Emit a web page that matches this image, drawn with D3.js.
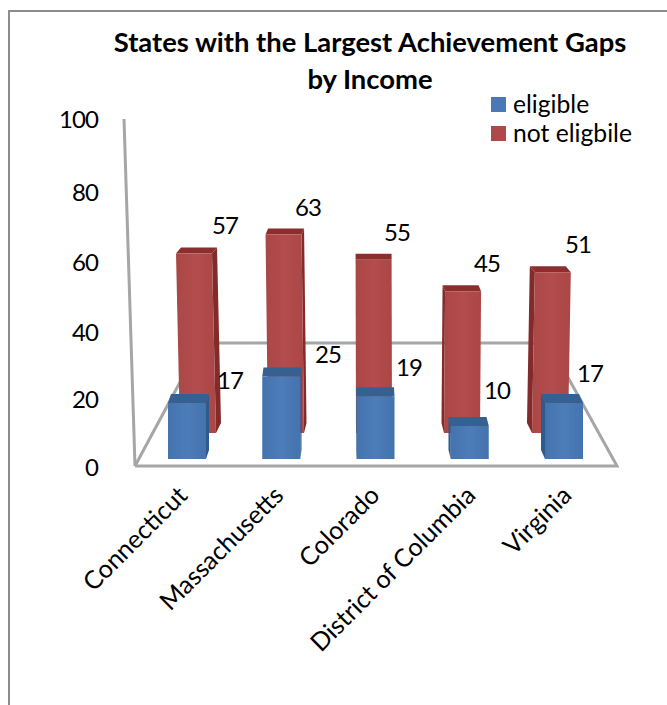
<!DOCTYPE html>
<html><head><meta charset="utf-8">
<script src="https://cdn.jsdelivr.net/npm/d3@7"></script>
<style>html,body{margin:0;padding:0;background:#fff}svg{display:block}text{font-family:Lato,"Open Sans",sans-serif;fill:#000}</style>
</head><body><svg id="c" width="667" height="705"></svg>
<script>
const categories=["Connecticut","Massachusetts","Colorado","District of Columbia","Virginia"];
const eligible=[17,25,19,10,17];
const notEligible=[57,63,55,45,51];
const axisTicks=[0,20,40,60,80,100];
const seriesNames=["eligible","not eligbile"];
const titleLines=["States with the Largest Achievement Gaps","by Income"];

const svg=d3.select("#c");
const defs=svg.append("defs");
function grad(id,a,b){const g=defs.append("linearGradient").attr("id",id).attr("x1",0).attr("x2",1).attr("y1",0).attr("y2",0);
 g.append("stop").attr("offset","0%").attr("stop-color",a);g.append("stop").attr("offset","50%").attr("stop-color",b);g.append("stop").attr("offset","100%").attr("stop-color",a);}
grad("gb","#4373af","#4d7db8");grad("gr","#aa4645","#b34e4d");
defs.append("filter").attr("id","soft").append("feGaussianBlur").attr("stdDeviation",0.5);

// frame
svg.append("path").attr("d","M9,705V11H667").attr("fill","none").attr("stroke","#8c8c8c").attr("stroke-width",2);

// title
svg.selectAll("text.t").data(titleLines).join("text").attr("class","t").attr("x",370).attr("y",(d,i)=>52+i*36.5)
 .attr("text-anchor","middle").attr("font-size",27.4).attr("font-weight",700).text(d=>d);

// axis with perspective-compressed spacing
const yAxisScale=d3.scaleLinear().domain(axisTicks).range([468,400,333,263,193,120]);
const ax=svg.append("g").attr("transform","translate(98,0)").call(d3.axisLeft(yAxisScale).tickValues(axisTicks).tickSize(0).tickPadding(0));
ax.select(".domain").remove();
ax.selectAll("text").attr("font-size",24).attr("letter-spacing",-0.9).style("font-family","Lato,'Open Sans',sans-serif").attr("fill","#000");

// walls & floor
const wall="#a6a6a6";
const floorPts=[[135,466],[617,466],[549,343],[201,343],[135,466]];
svg.append("path").attr("d",d3.line()(floorPts)).attr("fill","none").attr("stroke",wall).attr("stroke-width",3);
svg.append("path").attr("d",d3.line()([[124,119],[135,466]])).attr("fill","none").attr("stroke",wall).attr("stroke-width",3);

// projection scales
const idx=d3.scaleLinear().domain([0,categories.length-1]);
const xBlue=idx.copy().range([168,545]);
const xRed=idx.copy().range([180,532]);
const leanRed=idx.copy().range([-0.07,0.055]);
const depthBlue=idx.copy().range([3,-4]);
const depthRed=idx.copy().range([5,-5]);
const yBlue=d3.scaleLinear().domain([0,100]).range([459,129]);
const yRed=d3.scaleLinear().domain([0,100]).range([433,118]);

function box(g,o){
 const {xb,w,lean,dx,y,v,dyTop,dyBot,front,top,side}=o;
 const fx=(vv)=>xb+lean*vv;
 const poly=(pts,fill)=>g.append("polygon").attr("points",pts.map(p=>p.join(",")).join(" ")).attr("fill",fill);
 const yb=y(0),yt=y(v);
 if(dx>=0){poly([[fx(v)+w,yt],[fx(v)+w+dx,yt-dyTop],[fx(0)+w+dx,yb-dyBot],[fx(0)+w,yb]],side);}
 else{poly([[fx(v),yt],[fx(v)+dx,yt-dyTop],[fx(0)+dx,yb-dyBot],[fx(0),yb]],side);}
 poly([[fx(v),yt],[fx(v)+w,yt],[fx(v)+w+dx,yt-dyTop],[fx(v)+dx,yt-dyTop]],top);
 poly([[fx(0),yb],[fx(0)+w,yb],[fx(v)+w,yt],[fx(v),yt]],front);
}
const marks=svg.append("g").attr("filter","url(#soft)");
const red=marks.append("g");
notEligible.forEach((v,i)=>box(red.append("g"),{xb:xRed(i),w:36,lean:leanRed(i),dx:depthRed(i),y:yRed,v,dyTop:6,dyBot:10,front:"url(#gr)",top:"#8c2f2e",side:"#83292a"}));
const blue=marks.append("g");
eligible.forEach((v,i)=>box(blue.append("g"),{xb:xBlue(i),w:38,lean:0,dx:depthBlue(i),y:yBlue,v,dyTop:9,dyBot:9,front:"url(#gb)",top:"#34608f",side:"#2f5a8c"}));

// data labels
const redLabelX=[225,308,397,487,578];
const blueLabelX=[230,328,409,497,590];
const blueLabelDy=[22,22,28,35,29];
const labelSize=24;
svg.selectAll("text.r").data(notEligible).join("text").attr("class","r").attr("font-size",labelSize).attr("letter-spacing",-0.9).attr("text-anchor","middle")
 .attr("x",(d,i)=>redLabelX[i]).attr("y",d=>yRed(d)-27+8).text(d=>d);
svg.selectAll("text.b").data(eligible).join("text").attr("class","b").attr("font-size",labelSize).attr("letter-spacing",-0.9).attr("text-anchor","middle")
 .attr("x",(d,i)=>blueLabelX[i]).attr("y",(d,i)=>yBlue(d)-blueLabelDy[i]+8).text(d=>d);

// category labels
const xLab=idx.copy().range([189,573]);
svg.selectAll("text.c").data(categories).join("text").attr("class","c").attr("font-size",25.2).attr("text-anchor","end")
 .attr("transform",(d,i)=>`translate(${xLab(i)},497) rotate(-45)`).text(d=>d);

// legend
const legendColors=["#4a7ab5","#ad4a49"];
const lg=svg.selectAll("g.l").data(seriesNames).join("g").attr("class","l").attr("transform",(d,i)=>`translate(491,${97+i*29})`);
lg.append("rect").attr("width",15).attr("height",15).attr("fill",(d,i)=>legendColors[i]);
lg.append("text").attr("x",22).attr("y",16).attr("font-size",24.7).text(d=>d);
</script></body></html>
